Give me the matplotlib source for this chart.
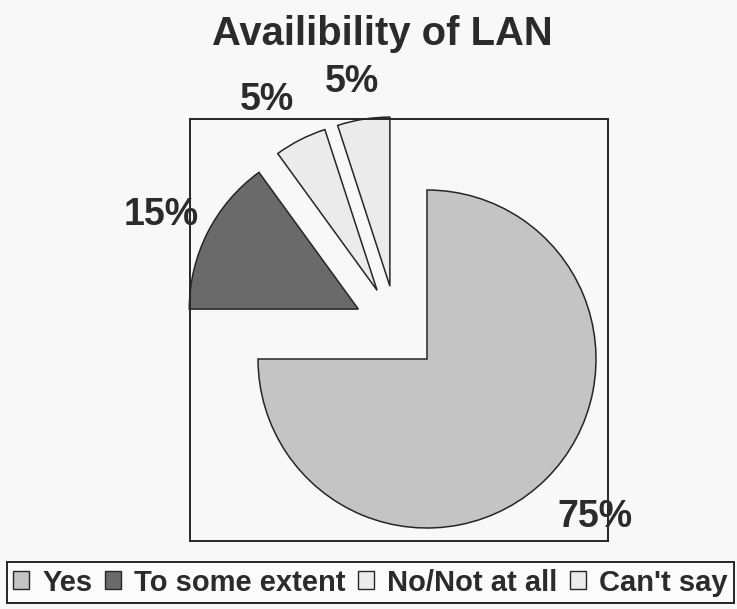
import matplotlib
matplotlib.use("Agg")
import matplotlib.pyplot as plt
import matplotlib.patches as mpatches
import numpy as np

# survey answers, percent of respondents
answers = ["Yes", "To some extent", "No/Not at all", "Can't say"]
shares = [75, 15, 5, 5]
fills = ["#c4c4c4", "#6a6a6a", "#ebebeb", "#ebebeb"]

# where each percent label sits: distance from exploded centre (in radii), angle tweak (deg)
label_dist = [1.406, 1.266, 1.249, 1.172]
label_turn = [0, 4, 4.5, 2]

W, H = 737, 609
plt.rcParams['font.family'] = ['Liberation Sans', 'DejaVu Sans']
plt.rcParams['font.weight'] = 'bold'

fig = plt.figure(figsize=(W / 100, H / 100), dpi=100, facecolor="#f8f8f8")

# plot frame in pixel units so the pie sits where the scan has it
left, right, top, bottom = 190, 608, 119, 541
ax = fig.add_axes([left / W, (H - bottom) / H, (right - left) / W, (bottom - top) / H])
ax.set_facecolor("#f8f8f8")

radius = 169
# explode is in data units here (pixels), every slice pulled out the same
wedges, texts, pct_texts = ax.pie(
    shares, colors=fills, startangle=90, counterclock=False,
    center=(396.6, H - 328.6), radius=radius, explode=[43] * len(shares),
    autopct=lambda p: f"{p:.0f}%", pctdistance=1.3, frame=True,
    wedgeprops=dict(edgecolor="#262626", linewidth=1.1),
    textprops=dict(fontsize=27, fontweight="bold", color="#2b2b2b"))

for w, t, d, turn in zip(wedges, pct_texts, label_dist, label_turn):
    ang = np.deg2rad((w.theta1 + w.theta2) / 2 + turn)
    cx, cy = w.center
    t.set_position((cx + d * w.r * np.cos(ang), cy + d * w.r * np.sin(ang)))
    t.set_va("baseline")
    t.set_ha("center")

ax.set_aspect("auto")
ax.set_xlim(left, right)
ax.set_ylim(H - bottom, H - top)
ax.set_xticks([])
ax.set_yticks([])
for sp in ax.spines.values():
    sp.set_linewidth(1.4)
    sp.set_color("#262626")

fig.text(382 / W, (H - 45) / H, "Availibility of LAN", ha="center", va="baseline",
         fontsize=28.8, fontweight="bold", color="#2b2b2b")

handles = [mpatches.Patch(facecolor=c, edgecolor="#262626", linewidth=1.0, label=a)
           for a, c in zip(answers, fills)]
leg = fig.legend(handles=handles, loc="lower left", bbox_to_anchor=(7 / W, (H - 603) / H),
                 ncol=4, fontsize=21, frameon=True, fancybox=False, framealpha=1,
                 handlelength=0.55, handleheight=0.55, handletextpad=0.45,
                 columnspacing=0.42, borderpad=0.22, borderaxespad=0)
leg.get_frame().set_edgecolor("#262626")
leg.get_frame().set_linewidth(1.4)
leg.get_frame().set_facecolor("#fbfbfb")
for t in leg.get_texts():
    t.set_color("#2b2b2b")

fig.savefig("out.png", dpi=100, facecolor=fig.get_facecolor())
